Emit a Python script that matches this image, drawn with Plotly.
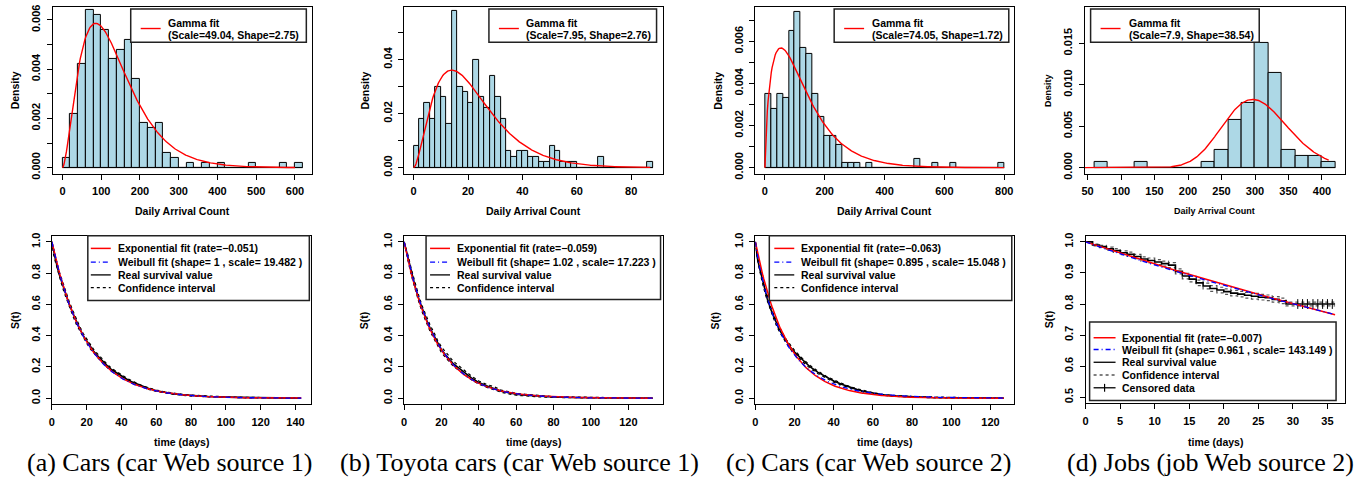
import math
import plotly.graph_objects as go

W, H = 1364, 489

# ---------------- top row: daily arrival count histograms ----------------
bin_start = [0, 0, 0, 60]
bin_width = [20, 2, 20, 20]
dens_a = [0.0004, 0.0022, 0.0042, 0.0064, 0.0062, 0.0056, 0.0044, 0.0048, 0.0052, 0.0036,
          0.0018, 0.0016, 0.0018, 0.0006, 0.0004, 0.0, 0.0002, 0.0, 0.0002, 0.0,
          0.0002, 0.0, 0.0, 0.0, 0.0002, 0.0, 0.0, 0.0, 0.0002, 0.0, 0.0002]
dens_b = [0.008, 0.018, 0.024, 0.018, 0.030, 0.026, 0.016, 0.058, 0.030, 0.028,
          0.024, 0.040, 0.026, 0.022, 0.034, 0.026, 0.018, 0.006, 0.004, 0.006,
          0.006, 0.004, 0.004, 0.002, 0.002, 0.008, 0.006, 0.002, 0.002, 0.002,
          0.0, 0.0, 0.0, 0.0, 0.004, 0.0, 0.0, 0.0, 0.0, 0.0, 0.0, 0.0, 0.0, 0.002]
dens_c = [0.0035, 0.0028, 0.0035, 0.0033, 0.0065, 0.0074, 0.0057, 0.0054, 0.0035, 0.0024,
          0.0015, 0.0015, 0.0011, 0.0002, 0.0002, 0.0002, 0.0, 0.0002, 0.0, 0.0,
          0.0, 0.0, 0.0, 0.0, 0.0, 0.0004, 0.0, 0.0, 0.0002, 0.0,
          0.0, 0.0002, 0.0, 0.0, 0.0, 0.0, 0.0, 0.0, 0.0, 0.0002]
dens_d = [0.00067, 0.0, 0.0, 0.00067, 0.0, 0.0, 0.0, 0.0, 0.00067, 0.0021,
          0.00576, 0.00786, 0.0150, 0.01145, 0.0021, 0.00142, 0.00142, 0.00067]
top_ymax = [0.00628, 0.0572, 0.00734, 0.01864]

gamma_scale = [49.04, 7.95, 74.05, 7.9]
gamma_shape = [2.75, 2.76, 1.72, 38.54]
gamma_from = [0, 0, 0, 45]
gamma_to = [600, 87, 800, 410]
gamma_scale_lbl = ["49.04", "7.95", "74.05", "7.9"]
gamma_shape_lbl = ["2.75", "2.76", "1.72", "38.54"]

top_xticks = [[0, 100, 200, 300, 400, 500, 600], [0, 20, 40, 60, 80],
              [0, 200, 400, 600, 800], [50, 100, 150, 200, 250, 300, 350, 400]]
top_yticks = [[0, 0.001, 0.002, 0.003, 0.004, 0.005, 0.006],
              [0, 0.01, 0.02, 0.03, 0.04, 0.05],
              [0, 0.001, 0.002, 0.003, 0.004, 0.005, 0.006, 0.007],
              [0, 0.005, 0.010, 0.015]]
top_ytext = [["0.000", "", "0.002", "", "0.004", "", "0.006"],
             ["0.00", "", "0.02", "", "0.04", ""],
             ["0.000", "", "0.002", "", "0.004", "", "0.006", ""],
             ["0.000", "0.005", "0.010", "0.015"]]

# ---------------- bottom row: survival curves ----------------
exp_rate = [0.051, 0.059, 0.063, 0.0074]
exp_rate_lbl = ["−0.051", "−0.059", "−0.063", "−0.007"]
weib_shape = [1.0, 1.02, 0.895, 0.961]
weib_scale = [19.482, 17.223, 15.048, 143.149]
weib_shape_lbl = ["1", "1.02", "0.895", "0.961"]
weib_scale_lbl = ["19.482", "17.223", "15.048", "143.149"]
t_max = [143.4, 133.0, 126.8, 36.1]

km_t_a = [0, 1, 2, 4, 6, 8, 10, 12, 14, 16, 18, 20, 22, 24, 26, 28, 30, 32, 34, 36, 38, 40,
          44, 48, 52, 56, 60, 65, 70, 75, 80, 90, 100, 110, 120, 130, 143]
km_s_a = [1.0, 0.93, 0.89, 0.80, 0.73, 0.665, 0.60, 0.545, 0.49, 0.445, 0.40, 0.365, 0.33, 0.30,
          0.275, 0.25, 0.225, 0.205, 0.185, 0.17, 0.155, 0.14, 0.115, 0.095, 0.075, 0.06, 0.048,
          0.037, 0.028, 0.022, 0.017, 0.011, 0.007, 0.004, 0.003, 0.002, 0.0]
ci_lo_a = [1.0, 0.915, 0.872, 0.782, 0.712, 0.647, 0.583, 0.528, 0.474, 0.43, 0.386, 0.351, 0.317,
           0.288, 0.263, 0.239, 0.214, 0.195, 0.176, 0.161, 0.147, 0.132, 0.108, 0.089, 0.07,
           0.055, 0.044, 0.033, 0.025, 0.019, 0.014, 0.009, 0.005, 0.003, 0.002, 0.001, 0.0]
ci_hi_a = [1.0, 0.945, 0.908, 0.818, 0.748, 0.683, 0.617, 0.562, 0.506, 0.46, 0.414, 0.379, 0.343,
           0.312, 0.287, 0.261, 0.236, 0.215, 0.194, 0.179, 0.163, 0.148, 0.122, 0.101, 0.08,
           0.065, 0.052, 0.041, 0.031, 0.025, 0.02, 0.013, 0.009, 0.006, 0.004, 0.003, 0.001]

km_t_b = [0, 1, 2, 4, 6, 8, 10, 12, 14, 16, 18, 20, 22, 24, 26, 28, 30, 32, 34, 36, 38, 40,
          44, 48, 52, 56, 60, 65, 70, 80, 90, 100, 110, 120, 133]
km_s_b = [1.0, 0.95, 0.90, 0.80, 0.71, 0.63, 0.56, 0.50, 0.445, 0.40, 0.35, 0.31, 0.28, 0.25,
          0.225, 0.205, 0.185, 0.165, 0.15, 0.13, 0.115, 0.10, 0.08, 0.065, 0.045, 0.035, 0.025,
          0.02, 0.015, 0.008, 0.005, 0.003, 0.002, 0.001, 0.0]
ci_lo_b = [1.0, 0.935, 0.882, 0.78, 0.69, 0.61, 0.54, 0.48, 0.425, 0.38, 0.332, 0.292, 0.263,
           0.234, 0.209, 0.19, 0.171, 0.151, 0.137, 0.118, 0.104, 0.09, 0.071, 0.056, 0.038,
           0.028, 0.019, 0.015, 0.01, 0.005, 0.002, 0.001, 0.0, 0.0, 0.0]
ci_hi_b = [1.0, 0.965, 0.918, 0.82, 0.73, 0.65, 0.58, 0.52, 0.465, 0.42, 0.368, 0.328, 0.297,
           0.266, 0.241, 0.22, 0.199, 0.179, 0.163, 0.142, 0.126, 0.11, 0.089, 0.074, 0.052,
           0.042, 0.031, 0.025, 0.02, 0.011, 0.008, 0.005, 0.004, 0.002, 0.001]

km_t_c = [0, 1, 2, 4, 6, 8, 10, 12, 14, 16, 18, 20, 24, 28, 32, 36, 40, 44, 48, 52, 56, 60,
          65, 70, 80, 90, 100, 110, 126.8]
km_s_c = [1.0, 0.90, 0.84, 0.73, 0.64, 0.565, 0.50, 0.445, 0.40, 0.36, 0.325, 0.295, 0.245, 0.20,
          0.165, 0.135, 0.11, 0.09, 0.07, 0.055, 0.042, 0.032, 0.022, 0.015, 0.009, 0.005, 0.003,
          0.002, 0.0]
ci_lo_c = [1.0, 0.89, 0.828, 0.716, 0.626, 0.551, 0.486, 0.432, 0.387, 0.348, 0.313, 0.284,
           0.235, 0.191, 0.157, 0.128, 0.103, 0.084, 0.065, 0.05, 0.038, 0.028, 0.019, 0.012,
           0.007, 0.003, 0.002, 0.001, 0.0]
ci_hi_c = [1.0, 0.91, 0.852, 0.744, 0.654, 0.579, 0.514, 0.458, 0.413, 0.372, 0.337, 0.306,
           0.255, 0.209, 0.173, 0.142, 0.117, 0.096, 0.075, 0.06, 0.046, 0.036, 0.025, 0.018,
           0.011, 0.007, 0.004, 0.003, 0.001]

km_t_d = [0, 1, 2, 3, 4, 5, 6, 7, 8, 9, 10, 11, 12, 13, 14, 15, 16, 17, 18, 19, 20, 21, 22, 23,
          24, 25, 26, 27, 28, 29, 30, 31, 32, 33, 34, 35, 36.1]
km_s_d = [1.0, 0.99, 0.985, 0.978, 0.972, 0.965, 0.96, 0.953, 0.945, 0.94, 0.935, 0.93, 0.925,
          0.905, 0.89, 0.88, 0.868, 0.858, 0.85, 0.845, 0.84, 0.835, 0.832, 0.828, 0.825, 0.822,
          0.82, 0.815, 0.81, 0.80, 0.80, 0.80, 0.80, 0.80, 0.80, 0.80, 0.80]
ci_lo_d = [1.0, 0.987, 0.981, 0.973, 0.966, 0.959, 0.953, 0.946, 0.938, 0.932, 0.927, 0.922,
           0.917, 0.897, 0.881, 0.871, 0.859, 0.849, 0.841, 0.836, 0.831, 0.826, 0.823, 0.819,
           0.816, 0.813, 0.811, 0.806, 0.801, 0.794, 0.794, 0.794, 0.794, 0.794, 0.794, 0.794,
           0.794]
ci_hi_d = [1.0, 0.993, 0.989, 0.983, 0.978, 0.971, 0.967, 0.96, 0.952, 0.948, 0.943, 0.938,
           0.933, 0.913, 0.899, 0.889, 0.877, 0.867, 0.859, 0.854, 0.849, 0.844, 0.841, 0.837,
           0.834, 0.831, 0.829, 0.824, 0.819, 0.806, 0.806, 0.806, 0.806, 0.806, 0.806, 0.806,
           0.806]
censor_t_d = [30.7, 31.4, 32.1, 32.9, 33.6, 34.3, 35.0, 35.7]
censor_s_d = [0.80, 0.80, 0.80, 0.80, 0.80, 0.80, 0.80, 0.80]

bot_xticks = [[0, 20, 40, 60, 80, 100, 120, 140], [0, 20, 40, 60, 80, 100, 120],
              [0, 20, 40, 60, 80, 100, 120], [0, 5, 10, 15, 20, 25, 30, 35]]
bot_yticks = [[0, 0.2, 0.4, 0.6, 0.8, 1.0]] * 3 + [[0.5, 0.6, 0.7, 0.8, 0.9, 1.0]]
bot_ytext = [["0.0", "0.2", "0.4", "0.6", "0.8", "1.0"]] * 3 + [["0.5", "0.6", "0.7", "0.8", "0.9", "1.0"]]
bot_ylim = [(0.0, 1.0)] * 3 + [(0.5, 1.0)]

captions = ["(a) Cars (car Web source 1)", "(b) Toyota cars (car Web source 1)",
            "(c) Cars (car Web source 2)", "(d) Jobs (job Web source 2)"]

# ---------------- layout geometry (pixels) ----------------
top_box = [(50, 310, 4, 174), (402, 661, 4, 174), (754, 1013, 4, 174), (1084, 1345, 4, 174)]
bot_box = [(49, 309, 237, 409), (402, 661, 237, 409), (754, 1013, 237, 409), (1085, 1345, 237, 408)]
top_ylab_x = [12, 363, 717, 1048]
bot_ylab_x = [12, 362, 714, 1048]
caption_x = [167, 518, 867, 1210]

top_leg_box = [(128, 304, 6, 40), (487, 655, 6, 40), (833, 1008, 6, 40), (1090, 1259, 6, 40)]
top_leg_line = [(138, 158), (497, 517), (843, 863), (1100, 1120)]
top_leg_text = [164, 523, 870, 1127]
bot_leg_box = [(85, 307, 237, 303), (424, 659, 237, 302), (768, 1011, 237, 303), (1089, 1336, 325, 405)]
bot_leg_line = [(88, 108), (428, 448), (773, 793), (1093, 1115)]
bot_leg_text = [114, 454, 799, 1120]
bot_leg_rows = [[250, 264, 277, 290]] * 3 + [[341, 353, 366, 379, 392]]

SANS = "Liberation Sans"
SERIF = "Liberation Serif"
LEG_SIZE = 10.5


def px(x):
    return x / W


def py(y):
    return 1 - y / H


def gamma_pdf(x, k, theta):
    if x <= 0:
        return 0.0
    return math.exp((k - 1) * math.log(x) - x / theta - math.lgamma(k) - k * math.log(theta))


fig = go.Figure()
layout = dict(width=W, height=H, margin=dict(l=0, r=0, t=0, b=0),
              paper_bgcolor="white", plot_bgcolor="white", showlegend=False)
shapes = []
annotations = []


def axis_common():
    return dict(showline=True, linecolor="black", linewidth=1, mirror=True,
                ticks="outside", ticklen=5, tickwidth=1, tickcolor="black",
                showgrid=False, zeroline=False,
                tickfont=dict(family=SANS, size=11, color="black", weight="bold"))


def add_text(x, y, text, size, xanchor="left", angle=0, family=SANS, bold=True):
    annotations.append(dict(x=px(x), y=py(y), xref="paper", yref="paper", text=text,
                            showarrow=False, xanchor=xanchor, yanchor="middle",
                            textangle=angle, borderpad=0,
                            font=dict(family=family, size=size, color="black",
                                      weight="bold" if bold else "normal")))


def add_legend_box(box):
    l, r, t, b = box
    shapes.append(dict(type="rect", xref="paper", yref="paper", x0=px(l), x1=px(r),
                       y0=py(b), y1=py(t), line=dict(color="#222", width=1.5),
                       fillcolor="white", layer="above"))


def add_sample(x0, x1, y, color, dash="solid", width=1.5):
    shapes.append(dict(type="line", xref="paper", yref="paper", x0=px(x0), x1=px(x1),
                       y0=py(y), y1=py(y), line=dict(color=color, width=width, dash=dash),
                       layer="above"))


hist_data = [dens_a, dens_b, dens_c, dens_d]

for i in range(4):
    n = i + 1
    xa = "x" if n == 1 else f"x{n}"
    ya = "y" if n == 1 else f"y{n}"
    # ---------- top histogram panel ----------
    dens = hist_data[i]
    w = bin_width[i]
    lo = bin_start[i]
    hi = lo + w * len(dens)
    centers = [lo + w * (j + 0.5) for j in range(len(dens))]
    fig.add_trace(go.Bar(x=centers, y=dens, width=[w] * len(dens), xaxis=xa, yaxis=ya,
                         marker=dict(color="#ADD8E6", line=dict(color="black", width=1)),
                         hoverinfo="skip"))
    fig.add_trace(go.Scatter(x=[lo, hi], y=[0, 0], mode="lines", xaxis=xa, yaxis=ya,
                             line=dict(color="black", width=1), hoverinfo="skip"))
    npts = 301
    gx = [gamma_from[i] + (gamma_to[i] - gamma_from[i]) * j / (npts - 1) for j in range(npts)]
    gy = [gamma_pdf(v, gamma_shape[i], gamma_scale[i]) for v in gx]
    fig.add_trace(go.Scatter(x=gx, y=gy, mode="lines", xaxis=xa, yaxis=ya,
                             line=dict(color="red", width=1.4), hoverinfo="skip"))
    l, r, t, b = top_box[i]
    span = hi - lo
    ymax = top_ymax[i]
    ax = axis_common()
    ax.update(domain=[px(l), px(r)], range=[lo - 0.04 * span, hi + 0.04 * span], anchor=ya,
              tickmode="array", tickvals=top_xticks[i],
              ticktext=[str(v) for v in top_xticks[i]], ticklabelstandoff=2)
    layout["xaxis" if n == 1 else f"xaxis{n}"] = ax
    ay = axis_common()
    ay.update(domain=[py(b), py(t)], range=[-0.04 * ymax, 1.04 * ymax], anchor=xa,
              tickmode="array", tickvals=top_yticks[i], ticktext=top_ytext[i],
              tickangle=-90, ticklabelstandoff=2)
    layout["yaxis" if n == 1 else f"yaxis{n}"] = ay
    tsize = 9 if i == 3 else 10.5
    add_text((l + r) / 2, 212, "Daily Arrival Count", tsize, xanchor="center")
    add_text(top_ylab_x[i], (t + b) / 2, "Density", tsize, xanchor="center", angle=-90)
    # legend
    add_legend_box(top_leg_box[i])
    add_sample(top_leg_line[i][0], top_leg_line[i][1], 26, "red", width=1.4)
    add_text(top_leg_text[i], 20.5, "Gamma fit", LEG_SIZE)
    add_text(top_leg_text[i], 33, f"(Scale={gamma_scale_lbl[i]}, Shape={gamma_shape_lbl[i]})", LEG_SIZE)

km_t = [km_t_a, km_t_b, km_t_c, km_t_d]
km_s = [km_s_a, km_s_b, km_s_c, km_s_d]
ci_lo = [ci_lo_a, ci_lo_b, ci_lo_c, ci_lo_d]
ci_hi = [ci_hi_a, ci_hi_b, ci_hi_c, ci_hi_d]

for i in range(4):
    n = i + 5
    xa, ya = f"x{n}", f"y{n}"
    shape = "hv" if i == 3 else "linear"
    ci_col = "#555" if i == 3 else "black"
    for arr in (ci_lo[i], ci_hi[i]):
        fig.add_trace(go.Scatter(x=km_t[i], y=arr, mode="lines", xaxis=xa, yaxis=ya,
                                 line=dict(color=ci_col, width=1.2, dash="3px,3px", shape=shape),
                                 hoverinfo="skip"))
    fig.add_trace(go.Scatter(x=km_t[i], y=km_s[i], mode="lines", xaxis=xa, yaxis=ya,
                             line=dict(color="black", width=1.6, shape=shape), hoverinfo="skip"))
    if i == 3:
        fig.add_trace(go.Scatter(x=censor_t_d, y=censor_s_d, mode="markers", xaxis=xa, yaxis=ya,
                                 marker=dict(symbol="line-ns-open", size=7, color="black",
                                             line=dict(color="black", width=1)),
                                 hoverinfo="skip"))
    npts = 300
    tt = [t_max[i] * j / (npts - 1) for j in range(npts)]
    fig.add_trace(go.Scatter(x=tt, y=[math.exp(-exp_rate[i] * v) for v in tt], mode="lines",
                             xaxis=xa, yaxis=ya, line=dict(color="red", width=1.5),
                             hoverinfo="skip"))
    fig.add_trace(go.Scatter(x=tt, y=[math.exp(-((v / weib_scale[i]) ** weib_shape[i])) for v in tt],
                             mode="lines", xaxis=xa, yaxis=ya,
                             line=dict(color="blue", width=1.3, dash="5px,3px,1px,3px"),
                             hoverinfo="skip"))
    l, r, t, b = bot_box[i]
    y0, y1 = bot_ylim[i]
    ys = y1 - y0
    ax = axis_common()
    ax.update(domain=[px(l), px(r)], range=[0, 1.04 * t_max[i]], anchor=ya,
              tickmode="array", tickvals=bot_xticks[i],
              ticktext=[str(v) for v in bot_xticks[i]], ticklabelstandoff=2)
    layout[f"xaxis{n}"] = ax
    ay = axis_common()
    ay.update(domain=[py(b), py(t)], range=[y0 - 0.04 * ys, y1 + 0.04 * ys], anchor=xa,
              tickmode="array", tickvals=bot_yticks[i], ticktext=bot_ytext[i],
              tickangle=-90, ticklabelstandoff=2)
    layout[f"yaxis{n}"] = ay
    add_text((l + r) / 2, 447, "time (days)", 10.5, xanchor="center")
    add_text(bot_ylab_x[i], (t + b) / 2, "S(t)", 10.5, xanchor="center", angle=-90)
    # legend
    add_legend_box(bot_leg_box[i])
    rows = bot_leg_rows[i]
    lx0, lx1 = bot_leg_line[i]
    tx = bot_leg_text[i]
    labels = [f"Exponential fit (rate={exp_rate_lbl[i]})",
              f"Weibull fit (shape= {weib_shape_lbl[i]} , scale= {weib_scale_lbl[i]} )",
              "Real survival value", "Confidence interval"]
    add_sample(lx0, lx1, rows[0], "red", width=1.5)
    add_sample(lx0, lx1, rows[1], "blue", dash="5px,3px,1px,3px", width=1.3)
    add_sample(lx0, lx1, rows[2], "black", width=1.3)
    add_sample(lx0, lx1, rows[3], "black", dash="3px,3px", width=1.2)
    if i == 3:
        labels.append("Censored data")
        add_sample(lx0, lx1, rows[4], "black", width=1.3)
        mid = (lx0 + lx1) / 2
        shapes.append(dict(type="line", xref="paper", yref="paper", x0=px(mid), x1=px(mid),
                           y0=py(rows[4] + 4), y1=py(rows[4] - 4),
                           line=dict(color="black", width=1.2), layer="above"))
    for lab, yy in zip(labels, rows):
        add_text(tx, yy, lab, LEG_SIZE)
    # caption
    add_text(caption_x[i], 468, captions[i], 26, xanchor="center", family=SERIF, bold=False)

layout["shapes"] = shapes
layout["annotations"] = annotations
layout["bargap"] = 0
fig.update_layout(**layout)
fig.write_html("out.html", config={"displayModeBar": False},
               post_script="document.body.style.margin='0';document.body.style.overflow='hidden';")
